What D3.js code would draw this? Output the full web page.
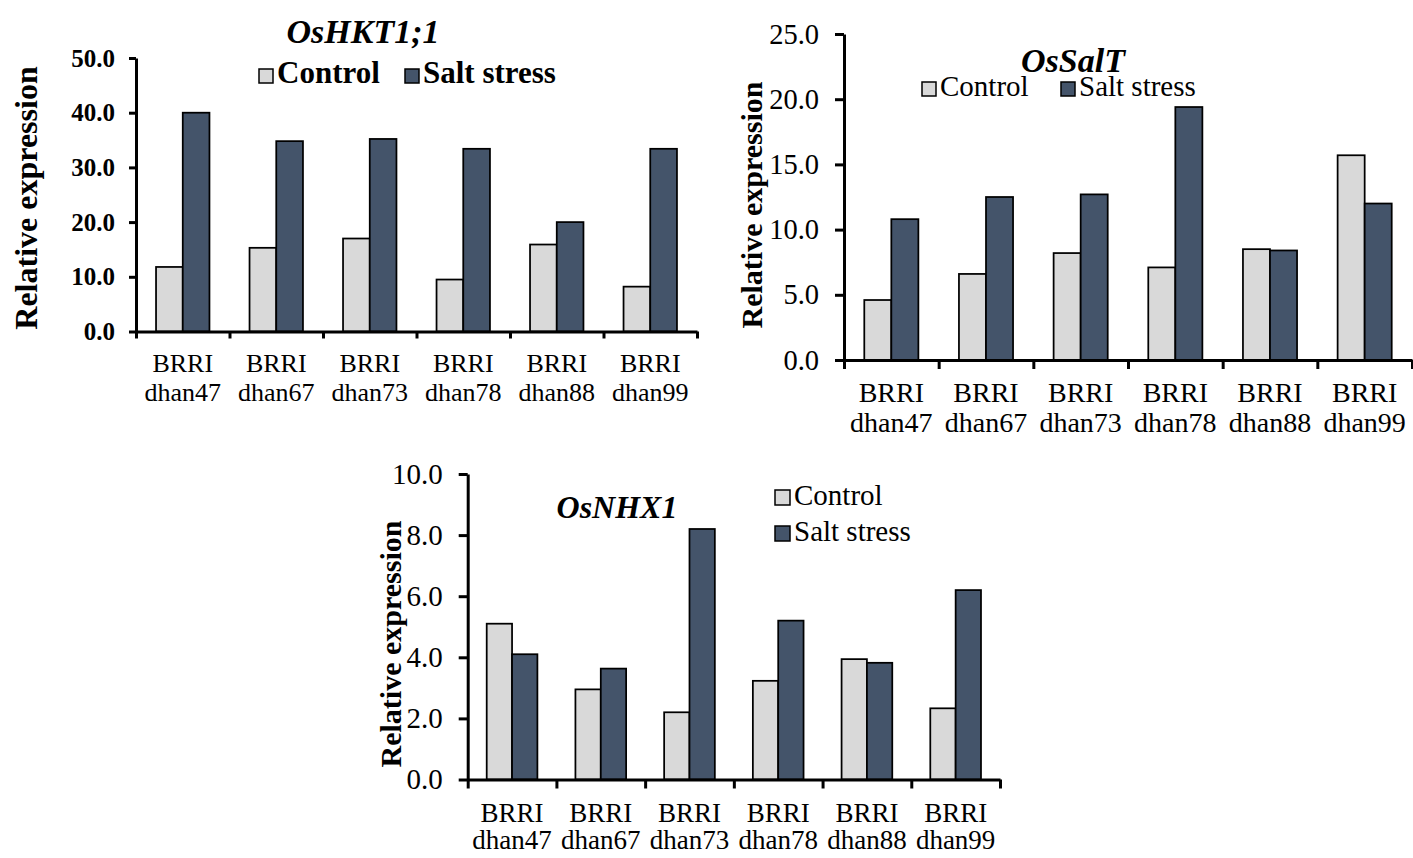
<!DOCTYPE html>
<html>
<head>
<meta charset="utf-8">
<script src="https://cdn.jsdelivr.net/npm/d3@7"></script>
<style>
  body { margin: 0; background: #fff; }
  svg { display: block; }
</style>
</head>
<body>
<div id="chart"></div>
<script>
const varieties = ['dhan47', 'dhan67', 'dhan73', 'dhan78', 'dhan88', 'dhan99']
const seriesNames = ['Control', 'Salt stress']

const hktControl = [11.8, 15.3, 17.0, 9.5, 15.9, 8.2]
const hktSalt = [40.0, 34.8, 35.2, 33.4, 20.0, 33.4]
const hktTicks = [0, 10, 20, 30, 40, 50]

const saltControl = [4.6, 6.6, 8.2, 7.1, 8.5, 15.7]
const saltSalt = [10.8, 12.5, 12.7, 19.4, 8.4, 12.0]
const saltTicks = [0, 5, 10, 15, 20, 25]

const nhxControl = [5.1, 2.95, 2.2, 3.23, 3.94, 2.33]
const nhxSalt = [4.1, 3.63, 8.2, 5.2, 3.82, 6.2]
const nhxTicks = [0, 2, 4, 6, 8, 10]

const colors = { 'Control': '#d9d9d9', 'Salt stress': '#44546a' }
const serif = '"Liberation Serif", "Times New Roman", serif'

const svg = d3.select('#chart')
    .append('svg')
    .attr('width', 1413)
    .attr('height', 858)
    .style('background', '#fff')

function drawChart(cfg) {
    const g = svg.append('g')

    const y = d3.scaleLinear()
        .domain([0, d3.max(cfg.ticks)])
        .range([cfg.y0, cfg.yTop])

    const x = d3.scaleBand()
        .domain(varieties)
        .range([cfg.x0, cfg.x1])

    const xs = d3.scaleBand()
        .domain(seriesNames)
        .range([0, x.bandwidth()])
        .paddingOuter(0.75)

    const rows = varieties.map((v, i) => {
        return { v: v, vals: [{ s: 'Control', val: cfg.control[i] }, { s: 'Salt stress', val: cfg.salt[i] }] }
    })

    g.selectAll('g.grp')
        .data(rows)
        .enter()
        .append('g')
        .attr('transform', d => 'translate(' + x(d.v) + ',0)')
        .selectAll('rect')
        .data(d => d.vals)
        .enter()
        .append('rect')
        .attr('x', d => xs(d.s))
        .attr('width', xs.bandwidth())
        .attr('y', d => y(d.val))
        .attr('height', d => cfg.y0 - y(d.val))
        .style('fill', d => colors[d.s])
        .style('stroke', '#000')
        .style('stroke-width', 1.75)

    // y axis
    const ya = g.append('g')
        .attr('transform', 'translate(' + cfg.x0 + ',0)')
        .call(
            d3.axisLeft(y)
                .tickValues(cfg.ticks)
                .tickFormat(d3.format('.1f'))
                .tickSize(cfg.tick)
                .tickSizeOuter(0)
                .tickPadding(cfg.pad)
        )
    ya.selectAll('path, line').style('stroke', '#000').style('stroke-width', 3)
    ya.selectAll('text')
        .style('font-family', serif)
        .style('font-size', cfg.tickFont + 'px')
        .style('font-weight', cfg.tickBold ? 'bold' : 'normal')
        .style('fill', '#000')

    // x axis with ticks on category boundaries
    const xb = d3.scaleLinear()
        .domain([0, varieties.length])
        .range([cfg.x0, cfg.x1])
    const xa = g.append('g')
        .attr('transform', 'translate(0,' + cfg.y0 + ')')
        .call(
            d3.axisBottom(xb)
                .tickValues(d3.range(0, varieties.length + 1))
                .tickFormat('')
                .tickSize(cfg.tick)
                .tickSizeOuter(0)
        )
    xa.selectAll('path, line').style('stroke', '#000').style('stroke-width', 3)

    // two-line category labels
    const lab = g.selectAll('text.lab')
        .data(varieties)
        .enter()
        .append('text')
        .attr('class', 'lab')
        .attr('text-anchor', 'middle')
        .style('font-family', serif)
        .style('font-size', cfg.labFont + 'px')
    lab.append('tspan')
        .attr('x', d => x(d) + x.bandwidth() / 2)
        .attr('y', cfg.y0 + cfg.labDy1)
        .text('BRRI')
    lab.append('tspan')
        .attr('x', d => x(d) + x.bandwidth() / 2)
        .attr('y', cfg.y0 + cfg.labDy2)
        .text(d => d)

    // y title
    g.append('text')
        .attr('transform', 'translate(' + cfg.yTitleX + ',' + cfg.yTitleY + ') rotate(-90)')
        .attr('text-anchor', 'middle')
        .style('font-family', serif)
        .style('font-weight', 'bold')
        .style('font-size', cfg.yTitleFont + 'px')
        .text('Relative expression')

    // gene title
    g.append('text')
        .attr('x', cfg.titleX)
        .attr('y', cfg.titleY)
        .attr('text-anchor', 'middle')
        .style('font-family', serif)
        .style('font-weight', 'bold')
        .style('font-style', 'italic')
        .style('font-size', cfg.titleFont + 'px')
        .text(cfg.title)

    // legend
    const leg = g.selectAll('g.leg')
        .data(seriesNames)
        .enter()
        .append('g')
        .attr('transform', (_, i) => 'translate(' + cfg.legX[i] + ',' + cfg.legY[i] + ')')
    leg.append('rect')
        .attr('x', 0)
        .attr('y', -cfg.legSq)
        .attr('width', cfg.legSq)
        .attr('height', cfg.legSq)
        .style('fill', d => colors[d])
        .style('stroke', '#000')
        .style('stroke-width', 1.5)
    leg.append('text')
        .attr('x', cfg.legSq + 4)
        .attr('y', 0)
        .style('font-family', serif)
        .style('font-weight', cfg.legBold ? 'bold' : 'normal')
        .style('font-size', cfg.legFont + 'px')
        .text(d => d)
}

drawChart({
    title: 'OsHKT1;1', control: hktControl, salt: hktSalt, ticks: hktTicks,
    x0: 136, x1: 697, y0: 331.5, yTop: 58,
    tick: 7, pad: 14, tickFont: 25, tickBold: true,
    labFont: 26, labDy1: 40, labDy2: 69,
    yTitleX: 37, yTitleY: 198, yTitleFont: 32,
    titleX: 363, titleY: 43, titleFont: 34,
    legX: [259, 405], legY: [83, 83], legSq: 14, legFont: 31, legBold: true
})

drawChart({
    title: 'OsSalT', control: saltControl, salt: saltSalt, ticks: saltTicks,
    x0: 844, x1: 1412, y0: 360, yTop: 34,
    tick: 9, pad: 16, tickFont: 28.5, tickBold: false,
    labFont: 28, labDy1: 41.5, labDy2: 71.5,
    yTitleX: 762, yTitleY: 205, yTitleFont: 30,
    titleX: 1073, titleY: 72, titleFont: 34,
    legX: [922, 1061], legY: [96, 96], legSq: 14, legFont: 29, legBold: false
})

drawChart({
    title: 'OsNHX1', control: nhxControl, salt: nhxSalt, ticks: nhxTicks,
    x0: 467.7, x1: 1000, y0: 779.5, yTop: 474,
    tick: 9, pad: 16, tickFont: 29, tickBold: false,
    labFont: 27, labDy1: 42, labDy2: 69,
    yTitleX: 401, yTitleY: 644, yTitleFont: 30,
    titleX: 617, titleY: 518, titleFont: 32,
    legX: [775, 775], legY: [505, 541], legSq: 15, legFont: 29, legBold: false
})
</script>
</body>
</html>
